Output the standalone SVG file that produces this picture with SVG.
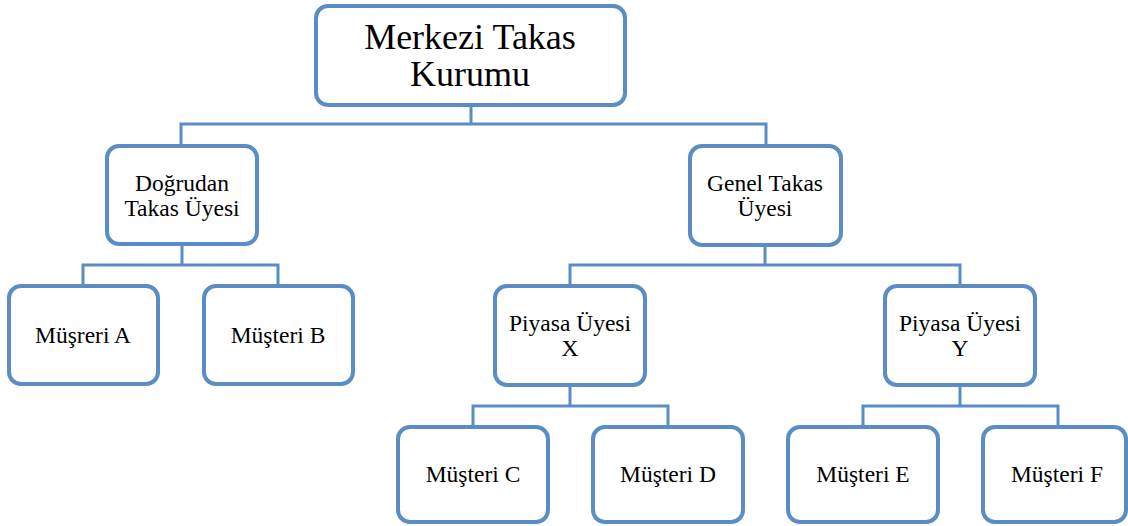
<svg xmlns="http://www.w3.org/2000/svg" width="1128" height="526" viewBox="0 0 1128 526">
<style>
.box{fill:#ffffff;stroke:#5a8dc6;stroke-width:4}
.ln{fill:none;stroke:#5a8dc6;stroke-width:3}
text{font-family:"Liberation Serif","Times New Roman",serif;fill:#000;text-anchor:middle}
.t1{font-size:36px}
.t2{font-size:23.5px}
</style>
<rect width="1128" height="526" fill="#ffffff"/>
<g id="connectors">
<path class="ln" d="M471 105V124M181 145V124H766V145"/>
<path class="ln" d="M182 244V265M83 285V265H278V285"/>
<path class="ln" d="M765 245V265M570 285V265H960V285"/>
<path class="ln" d="M570 386V406M473 426V406H668V426"/>
<path class="ln" d="M960 386V406M863 426V406H1058V426"/>
</g>
<g id="n-merkezi"><rect class="box" x="316" y="6" width="309" height="99" rx="12"/><text class="t1" x="470" y="49">Merkezi Takas</text><text class="t1" x="470" y="86">Kurumu</text></g>
<g id="n-dogrudan"><rect class="box" x="107" y="146" width="150" height="98" rx="12"/><text class="t2" x="182" y="191">Doğrudan</text><text class="t2" x="182" y="216">Takas Üyesi</text></g>
<g id="n-genel"><rect class="box" x="690" y="146" width="151" height="99" rx="12"/><text class="t2" x="765" y="191">Genel Takas</text><text class="t2" x="765" y="216">Üyesi</text></g>
<g id="n-a"><rect class="box" x="9" y="286" width="149" height="98" rx="12"/><text class="t2" x="83" y="343">Müşreri A</text></g>
<g id="n-b"><rect class="box" x="204" y="286" width="149" height="98" rx="12"/><text class="t2" x="278" y="343">Müşteri B</text></g>
<g id="n-x"><rect class="box" x="495" y="286" width="150" height="99" rx="12"/><text class="t2" x="570" y="331">Piyasa Üyesi</text><text class="t2" x="570" y="356">X</text></g>
<g id="n-y"><rect class="box" x="885" y="286" width="150" height="99" rx="12"/><text class="t2" x="960" y="331">Piyasa Üyesi</text><text class="t2" x="960" y="356">Y</text></g>
<g id="n-c"><rect class="box" x="398" y="427" width="150" height="95" rx="12"/><text class="t2" x="473" y="482">Müşteri C</text></g>
<g id="n-d"><rect class="box" x="593" y="427" width="150" height="95" rx="12"/><text class="t2" x="668" y="482">Müşteri D</text></g>
<g id="n-e"><rect class="box" x="788" y="427" width="150" height="95" rx="12"/><text class="t2" x="863" y="482">Müşteri E</text></g>
<g id="n-f"><rect class="box" x="983" y="427" width="143" height="95" rx="12"/><text class="t2" x="1057" y="482">Müşteri F</text></g>
</svg>
